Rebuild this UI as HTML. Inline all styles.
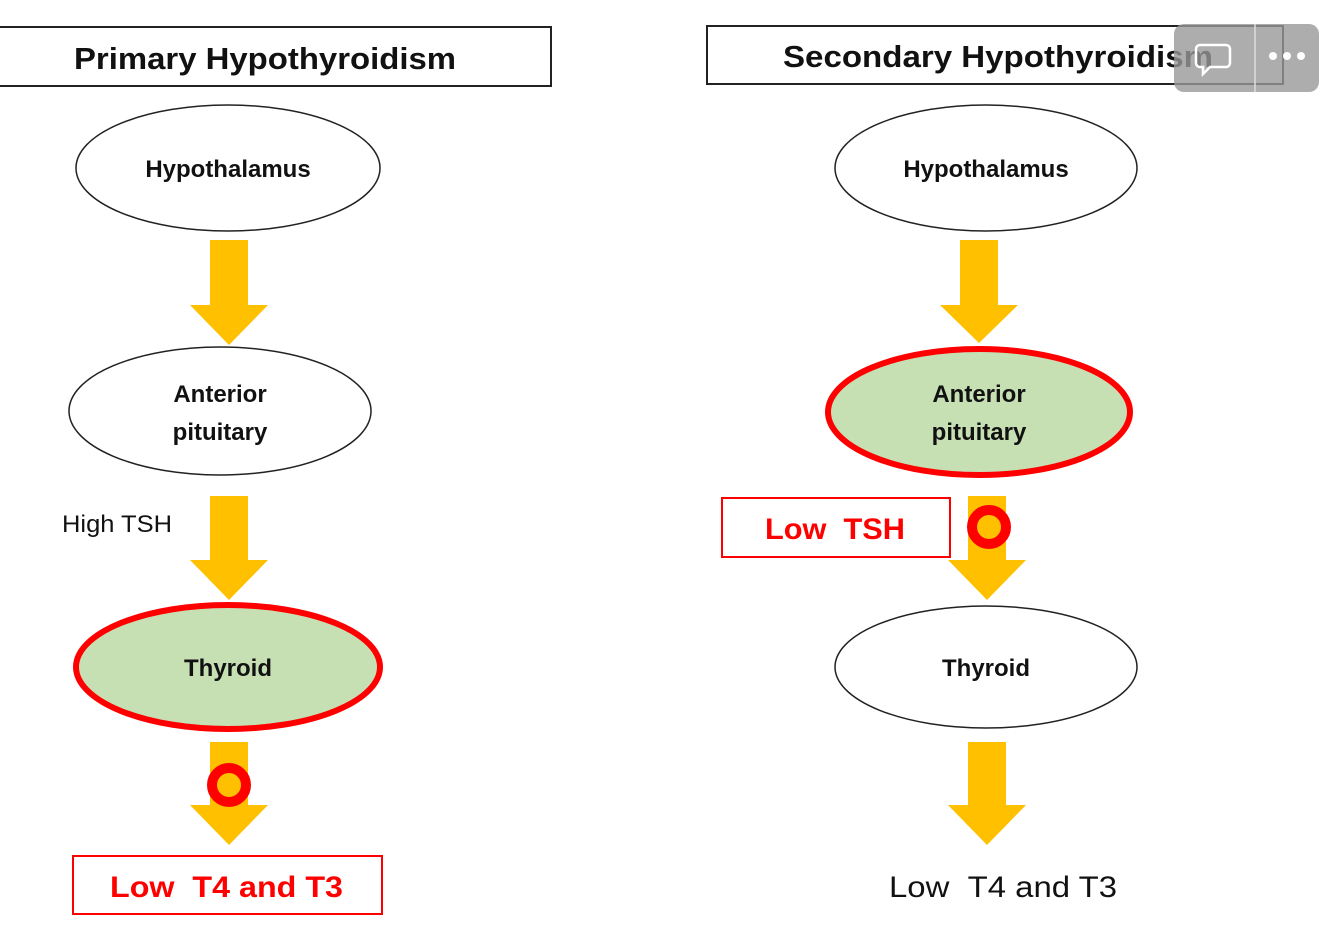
<!DOCTYPE html>
<html><head><style>
body{margin:0;background:#fff;width:1334px;height:920px;overflow:hidden;font-family:"Liberation Sans",sans-serif}
</style></head><body>
<svg width="1334" height="920" xmlns="http://www.w3.org/2000/svg" font-family="Liberation Sans, sans-serif">
<rect x="-2" y="27" width="553" height="59" fill="#fff" stroke="#222" stroke-width="2"/>
<text x="265" y="69" font-size="31" font-weight="bold" text-anchor="middle" fill="#111" textLength="382" lengthAdjust="spacingAndGlyphs">Primary Hypothyroidism</text>
<rect x="707" y="26" width="576" height="58" fill="#fff" stroke="#222" stroke-width="2"/>
<text x="783" y="67" font-size="31" font-weight="bold" fill="#111" textLength="430" lengthAdjust="spacingAndGlyphs">Secondary Hypothyroidism</text>
<g fill="#ffc000">
<polygon points="210,240 248,240 248,305 268,305 229,345 190,305 210,305"/>
<polygon points="210,496 248,496 248,560 268,560 229,600 190,560 210,560"/>
<polygon points="210,742 248,742 248,805 268,805 229,845 190,805 210,805"/>
<polygon points="960,240 998,240 998,305 1018,305 979,343 940,305 960,305"/>
<polygon points="968,496 1006,496 1006,560 1026,560 987,600 948,560 968,560"/>
<polygon points="968,742 1006,742 1006,805 1026,805 987,845 948,805 968,805"/>
</g>
<g stroke="#222" stroke-width="1.5" fill="#fff">
<ellipse cx="228" cy="168" rx="152" ry="63"/>
<ellipse cx="220" cy="411" rx="151" ry="64"/>
<ellipse cx="986" cy="168" rx="151" ry="63"/>
<ellipse cx="986" cy="667" rx="151" ry="61"/>
</g>
<ellipse cx="228" cy="667" rx="152" ry="62" fill="#c6e0b4" stroke="#f00" stroke-width="6"/>
<ellipse cx="979" cy="412" rx="151" ry="63" fill="#c6e0b4" stroke="#f00" stroke-width="6"/>
<g font-size="24" font-weight="bold" text-anchor="middle" fill="#111">
<text x="228" y="177">Hypothalamus</text>
<text x="220" y="402">Anterior</text>
<text x="220" y="440">pituitary</text>
<text x="228" y="676">Thyroid</text>
<text x="986" y="177">Hypothalamus</text>
<text x="979" y="402">Anterior</text>
<text x="979" y="440">pituitary</text>
<text x="986" y="676">Thyroid</text>
</g>
<text x="62" y="532" font-size="24" fill="#111" textLength="110" lengthAdjust="spacingAndGlyphs">High TSH</text>
<circle cx="229" cy="785" r="17" fill="#ffc000" stroke="#f00" stroke-width="10"/>
<circle cx="989" cy="527" r="17" fill="#ffc000" stroke="#f00" stroke-width="10"/>
<rect x="73" y="856" width="309" height="58" fill="#fff" stroke="#f00" stroke-width="2"/>
<text x="110" y="897" font-size="30" font-weight="bold" fill="#f00" textLength="233" lengthAdjust="spacingAndGlyphs">Low&#160;&#160;T4 and T3</text>
<rect x="722" y="498" width="228" height="59" fill="#fff" stroke="#f00" stroke-width="2"/>
<text x="765" y="539" font-size="30" font-weight="bold" fill="#f00" textLength="140" lengthAdjust="spacingAndGlyphs">Low&#160;&#160;TSH</text>
<text x="889" y="897" font-size="30" fill="#111" textLength="228" lengthAdjust="spacingAndGlyphs">Low&#160;&#160;T4 and T3</text>
<rect x="1174" y="24" width="145" height="68" rx="10" fill="#999" fill-opacity="0.8"/>
<line x1="1255" y1="24" x2="1255" y2="92" stroke="#ddd" stroke-width="1.5"/>
<path d="M1200 45 h26 a4 4 0 0 1 4 4 v14 a4 4 0 0 1 -4 4 h-16 l-7 7 v-7 h-3 a4 4 0 0 1 -4 -4 v-14 a4 4 0 0 1 4 -4z" fill="none" stroke="#fff" stroke-width="2.5"/>
<g fill="#fff"><circle cx="1273" cy="56" r="4"/><circle cx="1287" cy="56" r="4"/><circle cx="1301" cy="56" r="4"/></g>
</svg>
</body></html>
